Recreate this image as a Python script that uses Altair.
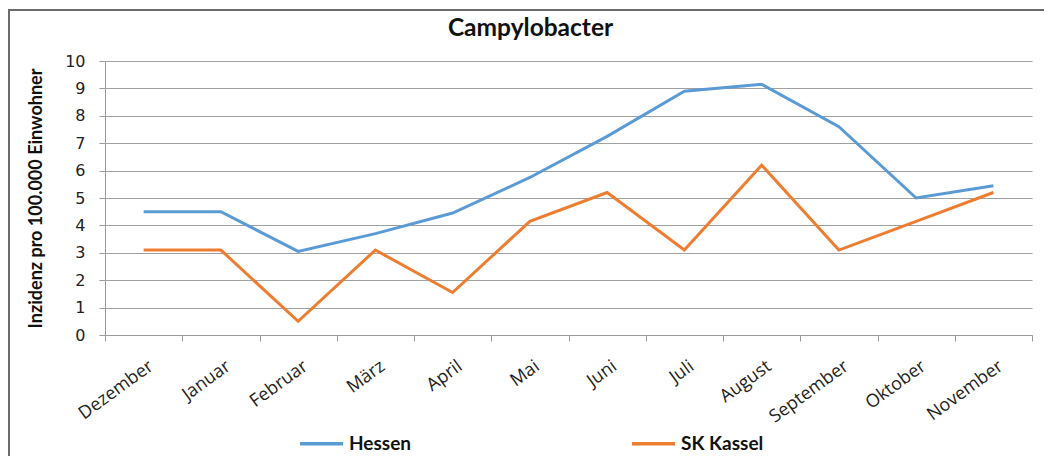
import altair as alt
import pandas as pd

months = ["Dezember", "Januar", "Februar", "März", "April", "Mai", "Juni",
          "Juli", "August", "September", "Oktober", "November"]
hessen = [4.5, 4.5, 3.05, 3.7, 4.45, 5.75, 7.25, 8.9, 9.15, 7.6, 5.0, 5.45]
kassel = [3.1, 3.1, 0.5, 3.1, 1.55, 4.15, 5.2, 3.1, 6.2, 3.1, 4.15, 5.2]
series = ["Hessen", "SK Kassel"]
colors = ["#5b9bd5", "#ed7d31"]
y_ticks = list(range(0, 11))

rows = []
for name, vals in zip(series, [hessen, kassel]):
    for m, v in zip(months, vals):
        rows.append({"Monat": m, "Wert": v, "Serie": name})
df = pd.DataFrame(rows)

W, H = 927, 274

lines = alt.Chart(df).mark_line(strokeWidth=3).encode(
    x=alt.X("Monat:N", sort=months, bandPosition=0.5,
            scale=alt.Scale(type="band", paddingInner=0, paddingOuter=0),
            axis=alt.Axis(title=None, labelAngle=-36, labelAlign="right",
                          labelBaseline="top", labelFont="Open Sans",
                          labelFontSize=18, labelColor="#222",
                          tickBand="extent", tickColor="#9a9a9a", tickSize=6,
                          domainColor="#9a9a9a", grid=False, labelPadding=16,
                          labelOffset=2)),
    y=alt.Y("Wert:Q", scale=alt.Scale(domain=[0, 10], nice=False),
            axis=alt.Axis(title="Inzidenz pro 100.000 Einwohner", values=y_ticks,
                          titleFont="Lato", titleFontSize=18, titleFontWeight="bold",
                          titleColor="#111", titlePadding=19,
                          labelFont="DejaVu Sans", labelFontSize=16, labelColor="#222",
                          gridColor="#a0a0a0", gridWidth=1.2, tickColor="#9a9a9a",
                          tickSize=6, domainColor="#9a9a9a", labelPadding=14)),
    color=alt.Color("Serie:N", scale=alt.Scale(domain=series, range=colors),
                    legend=alt.Legend(title=None, orient="none", direction="horizontal",
                                      legendX=193, legendY=359, padding=0,
                                      symbolType="stroke", symbolSize=1849,
                                      symbolStrokeWidth=3.5, labelFont="Lato",
                                      labelFontSize=19, labelFontWeight="bold",
                                      labelColor="#111", labelOffset=4,
                                      columnPadding=213)),
)

frame_df = pd.DataFrame({"f": [0]})
frame = alt.Chart(frame_df).mark_rect(fill=None, stroke="#6a6a6a", strokeWidth=2).encode(
    x=alt.value(-96), x2=alt.value(960), y=alt.value(-51), y2=alt.value(420)
)

chart = alt.layer(frame, lines).properties(
    width=W, height=H,
    title=alt.TitleParams("Campylobacter", font="Lato", fontSize=24.5, fontWeight="bold",
                          color="#111", anchor="middle", dx=-38, offset=-32),
    autosize=alt.AutoSizeParams(type="none"),
    padding={"left": 97, "top": 53, "right": 12, "bottom": 121},
).configure_view(stroke=None)

chart.save("out.html", embed_options={"renderer": "svg", "actions": False})
